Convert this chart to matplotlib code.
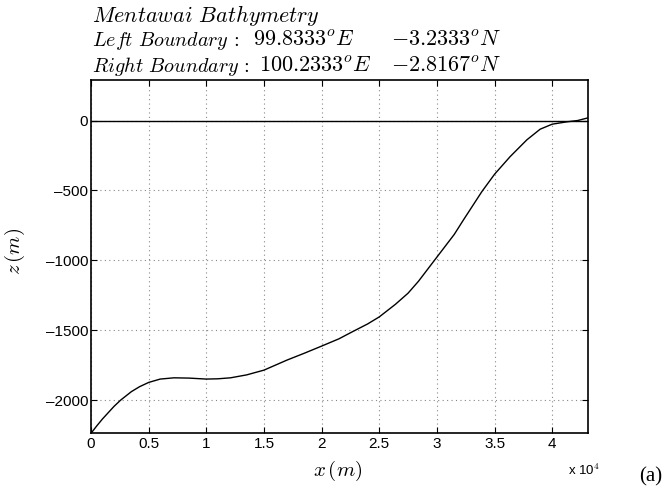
import numpy as np
import matplotlib
matplotlib.use('Agg')
import matplotlib.pyplot as plt
from matplotlib.ticker import FuncFormatter

plt.rcParams['mathtext.fontset'] = 'cm'
plt.rcParams['font.family'] = ['Liberation Sans', 'DejaVu Sans']

# bathymetry profile (x in m, z in m)
x = [0, 500, 1000, 1500, 2000, 2580, 3500, 4200, 5000, 6000, 7200, 8500,
     10000, 11000, 12100, 13500, 15000, 17000, 18500, 20000, 21500, 22700,
     24000, 25000, 26400, 27500, 28400, 30000, 31500, 32300, 33900, 35000,
     36350, 37800, 38950, 40000, 41300, 42200, 43100]
z = [-2238, -2185, -2135, -2090, -2045, -2000, -1940, -1905, -1874, -1850,
     -1841, -1843, -1850, -1848, -1841, -1820, -1786, -1714, -1665, -1614,
     -1562, -1510, -1455, -1405, -1315, -1235, -1150, -977, -815, -711, -508,
     -384, -258, -138, -62, -26, -9, 0, 19]

xticks = [0, 5000, 10000, 15000, 20000, 25000, 30000, 35000, 40000]
yticks = [-2000, -1500, -1000, -500, 0]

# title pieces: (text, x pixel, line, size)
title_parts = [(r'$Mentawai\ Bathymetry$', 92, 0, 16),
               (r'$Left\ Boundary\,:$', 92, 1, 14.5),
               (r'$99.8333^oE$', 253, 1, 16),
               (r'$-3.2333^oN$', 391, 1, 16),
               (r'$Right\ Boundary\,:$', 92, 2, 14.5),
               (r'$100.2333^oE$', 259, 2, 16),
               (r'$-2.8167^oN$', 391, 2, 16)]

W, H = 668, 488
fig = plt.figure(figsize=(W / 100, H / 100), dpi=100)
ax = fig.add_axes([91 / W, 1 - 433.3 / H, 497 / W, 353.3 / H])

ax.plot(x, z, color='k', lw=1)
ax.axhline(0, color='k', lw=1)

ax.set_xlim(0, 43100)
ax.set_ylim(-2238, 290)
ax.set_xticks(xticks)
ax.set_yticks(yticks)
ax.xaxis.set_major_formatter(FuncFormatter(lambda v, p: '%g' % (v / 1e4)))
ax.yaxis.set_major_formatter(FuncFormatter(lambda v, p: ('%d' % v).replace('-', '\u2013')))
ax.tick_params(direction='in', top=True, right=True, labelsize=11, length=4,
               width=0.8, pad=3)
ax.tick_params(axis='y', pad=2)
ax.grid(True, linestyle=(0, (1, 3)), color='#888888', lw=0.8)
for s in ax.spines.values():
    s.set_linewidth(1.2)

ax.set_xlabel(r'$x\,(m)$', fontsize=15)
ax.set_ylabel(r'$z\,(m)$', fontsize=15)
ax.xaxis.set_label_coords(0.497, -0.073)
ax.yaxis.set_label_coords(-0.128, 0.514)

for t, px, line, fs in title_parts:
    fig.text(px / W, 1 - (15 + 25.5 * line) / H, t, fontsize=fs,
             ha='left', va='center')

fig.text(568 / W, 1 - 470 / H, r'x 10$^4$', fontsize=9.5, ha='left', va='center')
fig.text(639 / W, 1 - 477 / H, '(a)', fontsize=15, family='Liberation Serif',
         ha='left', va='center')

fig.savefig('out.png', dpi=100)
